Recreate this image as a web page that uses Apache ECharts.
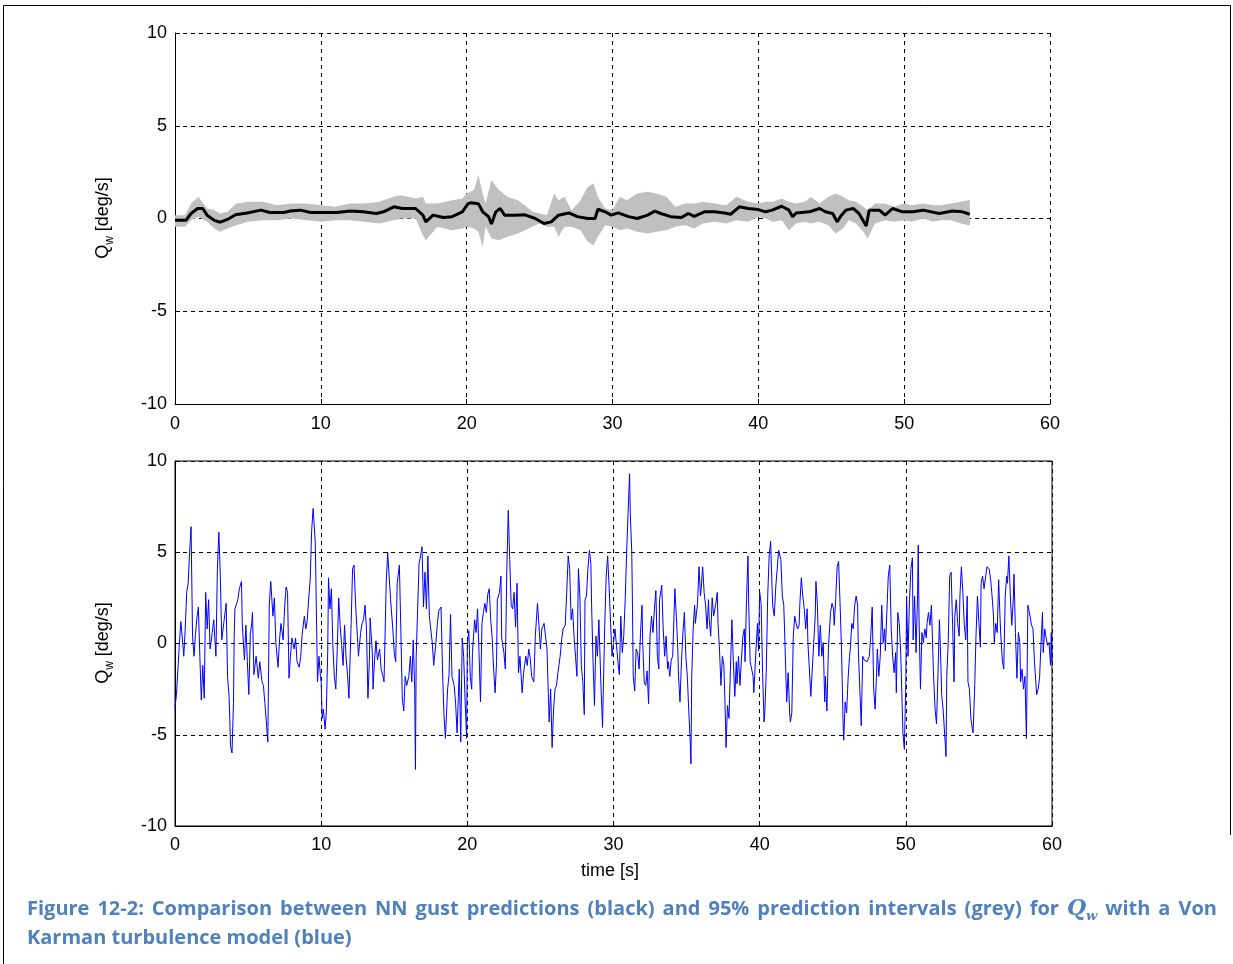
<!DOCTYPE html>
<html>
<head>
<meta charset="utf-8">
<script src="https://cdn.jsdelivr.net/npm/echarts@6/dist/echarts.min.js"></script>
<style>
  html, body { margin: 0; padding: 0; background: #fff; }
  #chart { width: 1233px; height: 964px; }
</style>
</head>
<body>
<div id="chart"></div>
<script>
// time ticks (s) and Q_w ticks (deg/s)
const timeTicks = [0, 10, 20, 30, 40, 50, 60];
const qTicks = [-10, -5, 0, 5, 10];

// NN gust prediction (black) : [t, Qw]
const prediction = [
  [0,-0.1],[0.75,-0.1],[1.1,0.27],[1.55,0.54],[1.9,0.54],[2.2,0.18],[2.7,-0.1],[3.1,-0.2],[3.6,-0.05],
  [4.15,0.2],[4.95,0.3],[5.9,0.45],[6.5,0.32],[7.45,0.32],[7.9,0.4],[8.6,0.45],[9.3,0.32],[10,0.32],
  [11.1,0.32],[12,0.4],[12.9,0.36],[13.8,0.27],[14.3,0.36],[15,0.63],[15.6,0.54],[16.5,0.54],[17,0.18],
  [17.2,-0.18],[17.7,0.18],[18.4,0.05],[19,0.1],[19.7,0.36],[20.1,0.8],[20.3,0.85],[20.8,0.8],[21.1,0.36],
  [21.5,0.1],[21.7,-0.3],[22,0.36],[22.3,0.54],[22.6,0.18],[23.3,0.18],[24,0.2],[24.7,0],[25.3,-0.27],
  [25.8,-0.18],[26.3,0.18],[27,0.3],[27.6,0.1],[28.3,0],[28.8,0],[29,0.5],[29.5,0.36],[29.9,0.18],
  [30.4,0.3],[31.1,0.1],[31.7,0],[32.4,0.18],[32.9,0.4],[33.3,0.27],[34,0.1],[34.7,0.05],[35.2,0.27],
  [35.6,0.12],[36.3,0.36],[37,0.36],[37.7,0.3],[38.1,0.23],[38.7,0.63],[39.3,0.54],[40,0.48],[40.5,0.36],
  [40.95,0.45],[41.6,0.66],[42.1,0.45],[42.35,0.1],[42.6,0.3],[43.5,0.36],[44.2,0.54],[44.6,0.36],
  [45.1,0.27],[45.4,-0.18],[45.7,0.18],[46,0.45],[46.5,0.54],[46.9,0.27],[47.3,-0.27],[47.4,-0.4],
  [47.6,0.45],[48.3,0.45],[48.7,0.18],[49.2,0.54],[49.9,0.36],[50.6,0.36],[51.3,0.45],[52.4,0.27],
  [53.3,0.4],[54,0.36],[54.5,0.23]
];

// 95% prediction interval (grey) : [t, lower, upper]
const interval95 = [
  [0,-0.45,0.18],[0.7,-0.45,0.18],[1.1,-0.09,0.81],[1.6,0.09,1.17],[2.2,-0.18,0.54],[2.7,-0.54,0.45],
  [3.1,-0.72,0.27],[3.6,-0.54,0.36],[4.2,-0.36,0.81],[5,-0.18,0.9],[6,-0.09,0.9],[7,-0.09,0.72],
  [8,0,0.81],[9,-0.09,0.81],[10,-0.18,0.72],[11,-0.09,0.63],[12,-0.09,0.81],[13,-0.18,0.81],
  [14,-0.27,0.9],[15,-0.09,1.17],[15.5,0,1.26],[16.5,0,1.08],[17,-0.9,1.17],[17.2,-1.17,0.81],
  [18,-0.45,0.81],[19,-0.63,0.99],[19.7,-0.54,1.08],[20,-0.45,1.35],[20.5,-0.54,1.53],[20.8,-0.72,2.34],
  [21.1,-1.53,1.35],[21.3,-0.45,0.81],[21.7,-1.08,2.07],[22.2,-1.17,1.53],[22.8,-0.99,1.17],
  [23.5,-0.81,0.99],[24,-0.63,0.72],[24.5,-0.45,0.36],[25,-0.27,0.27],[25.5,-0.45,0.18],[26,-0.45,1.35],
  [26.3,-0.99,0.99],[26.7,-0.45,1.17],[27.2,-0.45,0.45],[27.8,-0.63,0.99],[28.3,-1.26,1.71],
  [28.7,-1.44,1.89],[29,-0.99,1.17],[29.5,-0.36,0.54],[30,-0.45,0.45],[30.5,-0.63,1.17],[31,-0.54,0.99],
  [31.7,-0.72,1.35],[32.4,-0.81,1.44],[33,-0.72,1.35],[33.7,-0.63,1.17],[34.3,-0.45,0.63],[35,-0.36,0.81],
  [35.6,-0.54,0.81],[36.2,-0.27,0.9],[37,-0.18,0.81],[37.8,-0.27,0.72],[38.5,-0.09,1.17],[39.3,-0.18,0.9],
  [40,0.09,0.81],[40.5,0,0.9],[41,-0.18,0.9],[41.6,-0.09,1.08],[42.1,-0.63,0.9],[42.6,-0.27,0.81],
  [43.2,-0.18,0.9],[43.6,-0.27,1.17],[44.2,-0.18,0.81],[44.8,-0.36,1.17],[45.3,-0.81,1.35],
  [45.8,-0.54,1.17],[46.2,-0.09,0.99],[46.7,-0.27,0.9],[47.2,-0.72,0.63],[47.5,-1.08,0.45],
  [48,-0.27,0.81],[48.7,-0.09,0.81],[49.3,-0.18,0.63],[50,-0.09,0.81],[50.5,-0.18,0.72],[51.3,0,0.81],
  [52,-0.18,0.72],[52.5,-0.09,0.72],[53.2,-0.09,0.81],[53.9,-0.27,0.9],[54.4,-0.36,0.99],[54.5,-0.36,0.99]
];

// Von Karman turbulence model (blue) : [t, Qw], in 10 s pieces
const turb0to10 = [
  [0,-3.5],[0.1,-2.8],[0.2,-1.4],[0.3,0],[0.4,1.2],[0.5,0.3],[0.6,-0.7],[0.7,0.8],[0.8,2.8],[0.9,3.3],
  [1.0,5.0],[1.1,6.4],[1.2,0.4],[1.3,-0.7],[1.4,0.5],[1.5,1.4],[1.6,2.0],[1.7,-0.7],[1.8,-3.1],[1.9,-1.2],
  [2.0,-3.0],[2.1,2.8],[2.2,0.8],[2.3,2.4],[2.4,-0.3],[2.55,0.6],[2.65,1.3],[2.8,-0.7],[2.9,4.1],[3.0,6.1],
  [3.1,3.7],[3.2,0.2],[3.35,1.2],[3.5,2.2],[3.6,-1.9],[3.7,-2.9],[3.8,-5.6],[3.9,-6.0],[4.0,-3.3],[4.05,0.4],
  [4.1,1.9],[4.3,2.4],[4.4,3.0],[4.55,3.4],[4.6,1.1],[4.75,-0.9],[4.85,1.0],[4.95,-1.0],[5.05,-2.8],
  [5.15,0.5],[5.25,1.1],[5.3,1.7],[5.4,-1.7],[5.55,-0.7],[5.7,-1.9],[5.8,-1.0],[5.95,-2.1],[6.05,-2.3],
  [6.15,-3.3],[6.25,-4.3],[6.35,-5.4],[6.45,2.1],[6.55,3.4],[6.7,1.5],[6.8,2.5],[6.9,0.05],[7.05,-1.3],
  [7.15,0.2],[7.25,1.1],[7.4,0.2],[7.5,2.0],[7.6,3.1],[7.7,2.8],[7.8,-1.9],[7.9,-0.7],[8.0,0.3],[8.15,-0.3],
  [8.25,0.3],[8.35,-1.0],[8.5,-1.3],[8.6,-0.7],[8.7,0.5],[8.85,1.5],[8.95,0.8],[9.05,1.3],[9.15,2.5],
  [9.25,3.5],[9.35,6.2],[9.45,7.4],[9.6,5.5],[9.7,0.3],[9.75,-2.1],[9.85,-0.7],[9.95,-1.8]
];
const turb10to20 = [
  [10.0,-2.1],[10.07,-4.1],[10.15,-3.6],[10.27,-4.7],[10.35,-3.8],[10.45,-0.4],[10.5,3.6],[10.6,1.9],
  [10.7,3.0],[10.8,-0.1],[10.9,-1.8],[11.0,-2.5],[11.1,-0.3],[11.2,2.5],[11.3,1.0],[11.4,-0.1],[11.5,-1.2],
  [11.6,1.0],[11.7,-0.7],[11.8,-1.7],[11.9,-3.0],[12.05,1.1],[12.15,4.1],[12.25,4.3],[12.35,2.2],[12.5,0.05],
  [12.55,-0.7],[12.7,0.6],[12.8,1.1],[12.9,1.3],[13.0,2.1],[13.1,0.8],[13.2,-3.0],[13.3,-0.9],[13.35,1.4],
  [13.5,-0.5],[13.55,-2.5],[13.65,-0.9],[13.75,0.15],[13.85,-0.9],[14.0,-0.3],[14.1,-1.4],[14.2,-1.7],
  [14.3,-2.1],[14.45,3.3],[14.55,5.0],[14.65,5.1],[14.75,2.4],[14.9,0.8],[15.0,-0.5],[15.1,-1.0],[15.2,3.3],
  [15.35,4.3],[15.45,0.8],[15.55,-3.0],[15.65,-3.7],[15.75,-1.8],[15.85,-2.3],[16.0,-1.8],[16.1,-0.7],
  [16.2,-2.1],[16.3,0.2],[16.4,-2.5],[16.45,-6.9],[16.5,-0.7],[16.6,1.9],[16.7,4.4],[16.8,4.8],[16.9,5.3],
  [17.0,2.0],[17.1,3.9],[17.2,1.9],[17.3,4.8],[17.4,1.5],[17.5,1.5],[17.6,0.05],[17.7,-1.2],[17.85,0.05],
  [17.95,1.1],[18.05,1.8],[18.2,2.0],[18.3,-1.4],[18.4,-3.9],[18.5,-5.2],[18.65,-2.5],[18.75,-1.7],
  [18.85,1.6],[18.95,-1.8],[19.1,-2.3],[19.2,-3.3],[19.3,-4.9],[19.45,-1.4],[19.55,-5.4],[19.65,0.3],
  [19.75,-0.7],[19.85,-3.2],[19.95,-5.2]
];
const turb20to30 = [
  [20.0,-0.1],[20.1,0.7],[20.2,-1.8],[20.3,-2.5],[20.35,-0.5],[20.5,1.3],[20.6,0.6],[20.7,1.9],[20.8,-0.5],
  [20.9,-3.2],[21.0,1.1],[21.1,1.7],[21.2,2.2],[21.3,1.7],[21.4,2.7],[21.5,3.0],[21.6,1.3],[21.7,0.3],
  [21.8,-1.4],[21.9,-2.7],[22.0,-1.0],[22.05,2.4],[22.2,2.8],[22.3,3.7],[22.35,0.3],[22.5,-0.5],[22.6,-1.4],
  [22.7,4.0],[22.8,7.3],[22.9,4.6],[23.0,2.1],[23.1,1.9],[23.2,2.8],[23.3,0.9],[23.4,3.3],[23.5,-1.6],
  [23.6,-0.7],[23.75,-2.7],[23.85,-1.6],[24.0,-0.7],[24.1,-1.2],[24.2,-0.3],[24.3,-0.8],[24.4,-1.8],
  [24.55,-2.1],[24.65,0.4],[24.8,2.2],[24.9,1.0],[25.0,-0.3],[25.1,0.8],[25.25,1.1],[25.35,1.1],[25.45,-0.3],
  [25.55,-3.0],[25.6,-4.3],[25.7,-2.5],[25.8,-5.7],[25.9,-3.6],[26.0,-2.5],[26.1,-2.3],[26.2,-1.6],
  [26.35,-0.7],[26.45,0.2],[26.55,0.8],[26.7,1.0],[26.8,2.8],[26.9,4.8],[27.0,4.1],[27.1,1.3],[27.2,1.9],
  [27.3,0.4],[27.4,-0.7],[27.5,-1.8],[27.6,4.1],[27.7,2.6],[27.8,-1.2],[27.9,-2.1],[28.0,-3.9],[28.05,2.4],
  [28.15,2.6],[28.25,4.1],[28.35,5.1],[28.45,4.4],[28.5,2.2],[28.6,-1.0],[28.7,-3.4],[28.8,0.4],[28.9,-0.7],
  [29.0,1.3],[29.15,-2.5],[29.25,-4.6],[29.3,-2.7],[29.4,1.0],[29.5,3.7],[29.6,4.8],[29.7,3.1],[29.8,1.1],
  [29.9,-0.7]
];
const turb30to40 = [
  [30.0,0.05],[30.1,0.8],[30.25,-0.5],[30.3,-1.0],[30.4,-1.7],[30.5,1.5],[30.6,-0.5],[30.7,0.4],[30.8,2.4],
  [30.9,5.0],[31.0,7.2],[31.1,9.3],[31.15,7.1],[31.25,5.0],[31.3,1.9],[31.35,-1.8],[31.45,-2.6],[31.55,-0.3],
  [31.65,-0.5],[31.75,-1.4],[31.85,0.6],[31.95,2.1],[32.0,0.05],[32.1,-2.1],[32.2,-2.3],[32.3,-1.5],
  [32.4,-3.3],[32.5,0.4],[32.6,1.5],[32.7,0.6],[32.8,1.9],[32.9,2.9],[33.0,-0.7],[33.1,-1.4],[33.15,2.4],
  [33.3,3.2],[33.4,0.8],[33.5,-0.7],[33.6,0.4],[33.7,-1.4],[33.75,-1.0],[33.85,-1.8],[33.95,-0.9],
  [34.05,-0.7],[34.2,3.0],[34.3,1.5],[34.4,-0.3],[34.45,-1.8],[34.55,-3.2],[34.65,-1.0],[34.75,0.6],
  [34.85,1.7],[34.95,-0.7],[35.05,-1.8],[35.15,-3.7],[35.25,-5.4],[35.3,-6.6],[35.35,-1.9],[35.45,0.8],
  [35.55,2.1],[35.6,1.1],[35.75,2.2],[35.85,4.2],[35.95,2.6],[36.0,3.0],[36.1,4.2],[36.2,2.8],[36.3,2.1],
  [36.4,0.8],[36.5,2.4],[36.55,1.3],[36.65,0.4],[36.75,2.5],[36.85,1.5],[37.0,2.2],[37.1,2.8],[37.15,1.1],
  [37.25,-0.3],[37.35,-2.3],[37.45,-0.7],[37.55,-1.2],[37.65,-3.9],[37.7,-5.7],[37.8,-3.4],[37.9,-4.1],
  [38.0,-1.4],[38.1,1.3],[38.2,-1.0],[38.3,-2.9],[38.4,-1.0],[38.45,-2.2],[38.55,-0.7],[38.65,-2.3],
  [38.75,-0.9],[38.85,0.4],[38.95,0.8],[39.0,-1.0],[39.1,2.4],[39.2,4.8],[39.25,2.1],[39.35,-1.0],
  [39.45,-1.4],[39.55,-1.8],[39.6,-2.7],[39.75,-0.3],[39.85,1.1],[39.92,-0.4]
];
const turb40to50 = [
  [40.0,2.8],[40.1,2.2],[40.2,-1.6],[40.3,-4.3],[40.35,-3.8],[40.45,-1.6],[40.55,2.6],[40.65,4.8],[40.75,5.6],
  [40.85,3.0],[40.9,2.0],[41.0,1.5],[41.1,3.1],[41.2,4.1],[41.3,5.1],[41.4,5.2],[41.45,4.6],[41.55,2.6],
  [41.65,2.1],[41.75,-0.5],[41.85,-3.2],[41.95,-1.6],[42.05,-3.8],[42.1,-4.3],[42.2,-3.8],[42.3,0.4],
  [42.4,1.5],[42.5,1.1],[42.6,0.8],[42.7,1.0],[42.75,2.2],[42.85,3.6],[42.95,2.6],[43.05,1.9],[43.15,0.8],
  [43.25,1.9],[43.3,0.05],[43.4,-1.4],[43.5,-2.9],[43.6,-1.4],[43.7,0.05],[43.8,1.5],[43.85,3.4],[43.95,2.1],
  [44.05,-0.7],[44.15,1.0],[44.25,-0.7],[44.35,0.05],[44.45,-3.2],[44.5,-1.8],[44.6,-3.7],[44.7,-0.3],
  [44.85,1.7],[44.95,2.2],[45.05,1.9],[45.1,1.0],[45.2,2.4],[45.3,4.2],[45.4,4.5],[45.5,2.2],[45.6,-0.3],
  [45.7,-4.1],[45.75,-5.3],[45.85,-3.2],[45.95,-3.8],[46.05,-1.9],[46.15,-0.7],[46.2,-0.3],[46.3,1.1],
  [46.4,0.8],[46.5,2.1],[46.6,2.6],[46.7,2.1],[46.75,-0.3],[46.85,-2.5],[46.95,-4.5],[47.05,-0.7],
  [47.15,-0.9],[47.25,-1.0],[47.35,-1.0],[47.5,-0.7],[47.6,0.4],[47.7,2.0],[47.8,-2.5],[47.9,-3.6],
  [48.0,-1.6],[48.05,-0.3],[48.15,-1.8],[48.25,-0.7],[48.35,2.1],[48.45,0.05],[48.55,0.8],[48.6,-0.4],
  [48.7,1.7],[48.8,3.7],[48.9,4.3],[49.0,0.8],[49.1,-0.7],[49.2,-1.6],[49.3,-0.5],[49.35,-2.7],[49.45,1.7],
  [49.55,1.1],[49.65,-0.5],[49.75,-3.4],[49.8,-4.9],[49.9,-5.8]
];
const turb50to60 = [
  [50.0,-2.1],[50.05,2.6],[50.15,-0.7],[50.25,2.4],[50.35,4.1],[50.45,4.7],[50.5,0.2],[50.6,2.6],[50.7,-0.5],
  [50.8,2.6],[50.85,5.4],[50.9,1.5],[51.0,-2.5],[51.1,0.6],[51.2,0.05],[51.3,0.8],[51.4,0.3],[51.45,1.1],
  [51.55,1.7],[51.65,1.0],[51.75,2.1],[51.85,-0.5],[51.9,-1.8],[52.0,-3.6],[52.1,-4.4],[52.2,-1.6],
  [52.3,1.3],[52.4,-1.2],[52.45,-2.8],[52.55,-3.6],[52.65,-4.9],[52.75,-6.2],[52.8,-1.8],[52.9,0.05],
  [53.0,3.7],[53.1,3.9],[53.2,1.0],[53.3,-2.1],[53.35,1.5],[53.45,2.4],[53.55,1.1],[53.65,0.4],[53.7,2.6],
  [53.8,4.2],[53.9,2.8],[54.0,1.0],[54.1,0.2],[54.2,2.6],[54.25,-2.1],[54.35,-2.5],[54.45,-4.1],[54.55,-4.7],
  [54.6,-4.9],[54.7,-2.7],[54.8,0.4],[54.9,2.6],[55.0,1.1],[55.1,-0.2],[55.15,3.3],[55.25,3.7],[55.35,3.0],
  [55.45,3.1],[55.55,4.2],[55.6,4.3],[55.7,4.1],[55.8,3.5],[55.9,2.6],[56.0,1.5],[56.05,0.05],[56.15,1.1],
  [56.25,0.6],[56.35,3.5],[56.45,1.3],[56.5,0.4],[56.6,-0.9],[56.7,-1.4],[56.8,2.6],[56.9,3.7],[56.95,3.3],
  [57.05,4.8],[57.15,2.6],[57.25,1.0],[57.35,2.4],[57.4,3.8],[57.5,0.6],[57.6,-1.9],[57.7,0.6],[57.8,0.05],
  [57.85,-2.1],[57.95,-1.4],[58.05,-2.5],[58.15,-1.8],[58.25,-5.2],[58.35,2.1],[58.4,2.2],[58.5,1.5],
  [58.6,1.0],[58.7,0.8],[58.8,-1.0],[58.85,-1.6],[58.95,-2.8],[59.05,-2.5],[59.15,-1.9],[59.25,0.05],
  [59.35,1.7],[59.4,-0.5],[59.5,0.8],[59.6,0.3],[59.7,-0.1],[59.8,0.05],[59.9,-1.2],[59.95,0.6],[60,-1.0]
];

const turbulence = [].concat(turb0to10, turb10to20, turb20to30, turb30to40, turb40to50, turb50to60);

const tickFont = { fontFamily: 'Liberation Sans, Arial, sans-serif', fontSize: 18, color: '#000' };
const gridLine = { show: true, lineStyle: { color: '#000', width: 1, type: [4, 4] } };

function xAxisFor(gridIndex, margin) {
  return {
    type: 'value', gridIndex: gridIndex,
    min: timeTicks[0], max: timeTicks[timeTicks.length - 1], interval: 10,
    axisLine: { show: true, onZero: false, lineStyle: { color: '#000', width: 1 } },
    axisTick: { show: true, inside: true, length: 5, lineStyle: { color: '#000' } },
    axisLabel: Object.assign({ margin: margin }, tickFont),
    splitLine: gridLine
  };
}
function yAxisFor(gridIndex) {
  return {
    type: 'value', gridIndex: gridIndex,
    min: qTicks[0], max: qTicks[qTicks.length - 1], interval: 5,
    axisLine: { show: true, onZero: false, lineStyle: { color: '#000', width: 1 } },
    axisTick: { show: true, inside: true, length: 5, lineStyle: { color: '#000' } },
    axisLabel: Object.assign({ margin: 8 }, tickFont),
    splitLine: gridLine
  };
}

const axisNameStyle = {
  fill: '#000',
  font: '18px "Liberation Sans", Arial, sans-serif',
  align: 'center', verticalAlign: 'middle',
  text: '{q|Q}{s|w}{q| [deg/s]}',
  rich: {
    q: { fontSize: 18, fontFamily: 'Liberation Sans', lineHeight: 26, verticalAlign: 'middle' },
    s: { fontSize: 12, fontFamily: 'Liberation Sans', lineHeight: 26, verticalAlign: 'bottom' }
  }
};

// caption line 1 is justified in the source document: widen the gaps a little
const captionBlue = '#4f81bd';
const captionWords = 'Figure 12-2: Comparison between NN gust predictions (black) and 95% prediction intervals (grey) for'.split(' ');
const captionLine1 = captionWords.map(function (w) { return '{c|' + w + '}'; }).join('{sp| }') +
  '{sp| }{m|Q}{ms|w}{sp| }{c|with}{sp| }{c|a}{sp| }{c|Von}';

let myChart = echarts.init(document.getElementById('chart'), null, { renderer: 'canvas' });
myChart.setOption({
  animation: false,
  backgroundColor: '#fff',
  grid: [
    { left: 175, top: 33, width: 875, height: 371, show: false },
    { left: 175, top: 461, width: 877, height: 365, show: true, borderColor: '#000', borderWidth: 1 }
  ],
  xAxis: [xAxisFor(0, 11), xAxisFor(1, 10)],
  yAxis: [yAxisFor(0), yAxisFor(1)],
  series: [
    {
      name: '95% interval', type: 'custom', xAxisIndex: 0, yAxisIndex: 0,
      data: interval95,
      encode: { x: 0, y: [1, 2] },
      renderItem: function (params, api) {
        if (params.dataIndex !== 0) return null;
        const pts = [];
        interval95.forEach(function (d) { pts.push(api.coord([d[0], d[2]])); });
        for (let i = interval95.length - 1; i >= 0; i--) {
          pts.push(api.coord([interval95[i][0], interval95[i][1]]));
        }
        return { type: 'polygon', shape: { points: pts }, style: { fill: '#c0c0c0', stroke: null } };
      },
      z: 1
    },
    {
      name: 'NN prediction', type: 'line', xAxisIndex: 0, yAxisIndex: 0,
      data: prediction, showSymbol: false, symbol: 'none',
      lineStyle: { color: '#000', width: 3 }, z: 3
    },
    {
      name: 'Von Karman', type: 'line', xAxisIndex: 1, yAxisIndex: 1,
      data: turbulence, showSymbol: false, symbol: 'none',
      lineStyle: { color: '#0000ff', width: 1 }, z: 3
    }
  ],
  graphic: [
    // document frame: top, left and right rules
    { type: 'polyline', shape: { points: [[3.5, 964], [3.5, 5.5], [1230.5, 5.5], [1230.5, 835]] }, style: { fill: null, stroke: '#000', lineWidth: 1 }, silent: true },
    { type: 'text', x: 103, y: 218, rotation: Math.PI / 2, style: axisNameStyle },
    { type: 'text', x: 103, y: 643, rotation: Math.PI / 2, style: axisNameStyle },
    { type: 'text', x: 610, y: 871, style: { text: 'time [s]', fill: '#000', font: '18px "Liberation Sans", Arial, sans-serif', align: 'center', verticalAlign: 'middle' } },
    {
      type: 'text', x: 27, y: 909,
      style: {
        text: captionLine1,
        verticalAlign: 'middle', align: 'left',
        rich: {
          c: { fontSize: 20, fontWeight: 'bold', fontFamily: 'Open Sans', fill: captionBlue, lineHeight: 28 },
          sp: { fontSize: 20, fontFamily: 'Open Sans', width: 8, lineHeight: 28 },
          m: { fontSize: 22, fontWeight: 'bold', fontStyle: 'italic', fontFamily: 'DejaVu Serif', fill: captionBlue, lineHeight: 28 },
          ms: { fontSize: 13, fontWeight: 'bold', fontStyle: 'italic', fontFamily: 'DejaVu Serif', fill: captionBlue, lineHeight: 28, verticalAlign: 'bottom' }
        }
      }
    },
    {
      type: 'text', x: 27, y: 938,
      style: {
        text: 'Karman turbulence model (blue)', fill: captionBlue,
        font: 'bold 20px "Open Sans", sans-serif', verticalAlign: 'middle', align: 'left'
      }
    }
  ]
});

window.addEventListener('resize', function () {
  myChart.resize();
});
</script>
</body>
</html>
